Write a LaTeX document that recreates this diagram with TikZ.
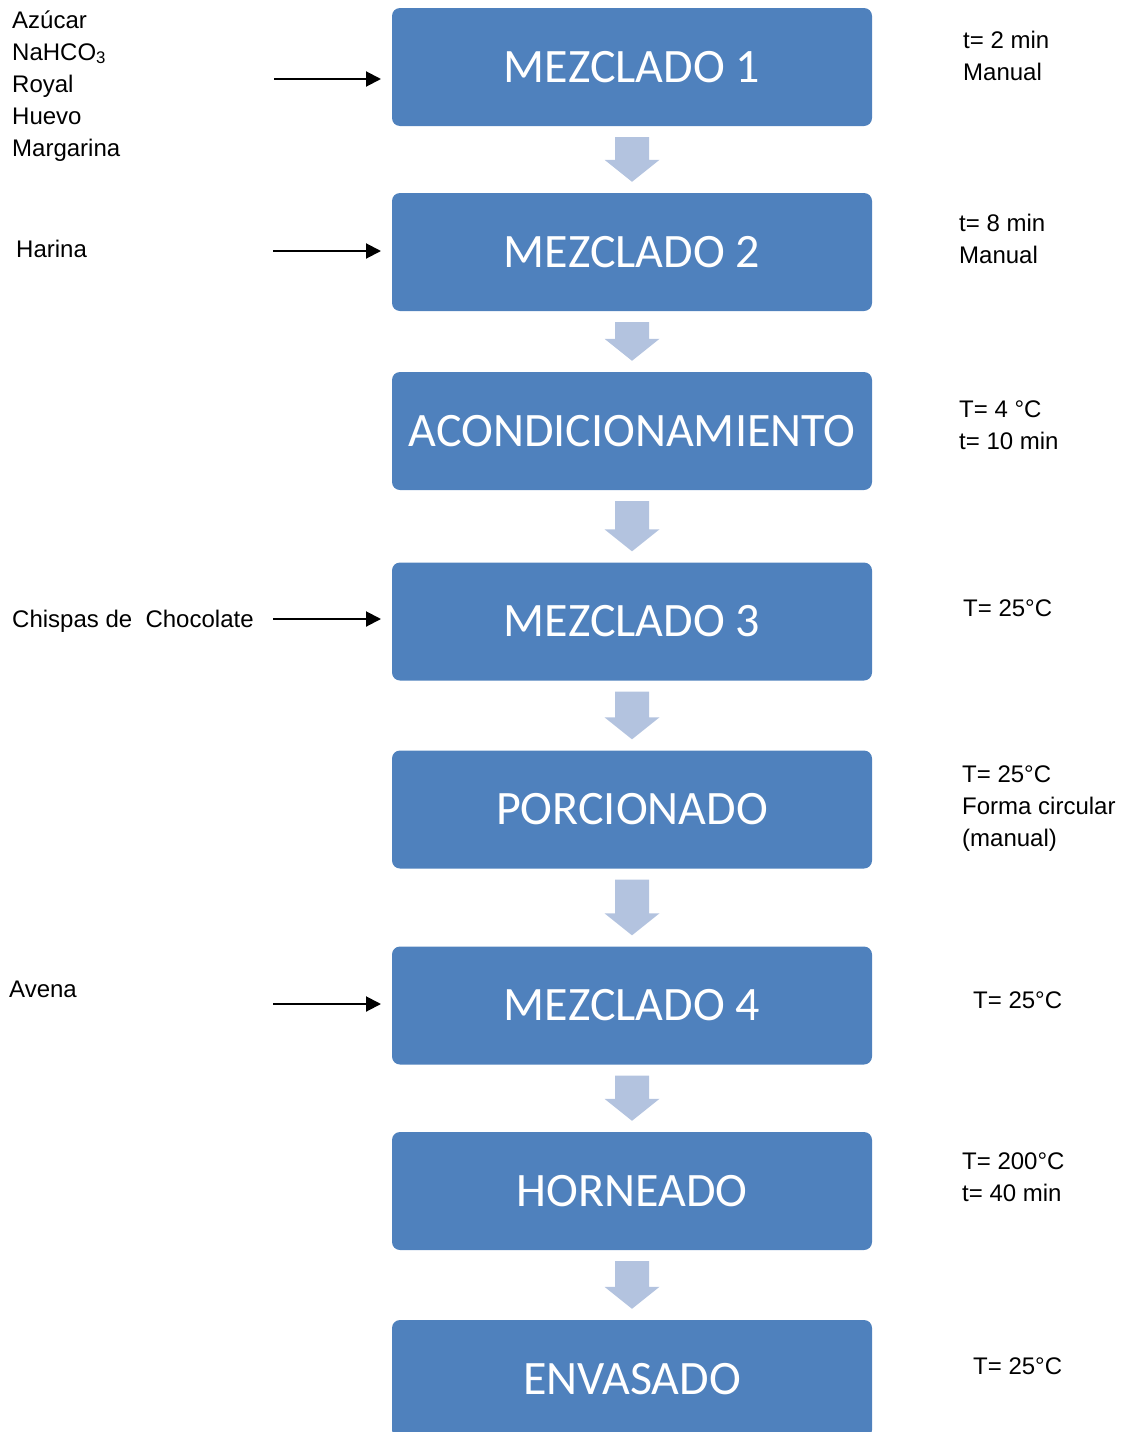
\documentclass[tikz,border=0pt]{standalone}
\usepackage{fontspec}
\setmainfont{Liberation Sans}
\newfontfamily\boxfont{Carlito}
\usetikzlibrary{arrows.meta,calc}
\definecolor{boxblue}{HTML}{4F81BD}
\definecolor{arrowblue}{HTML}{B3C3DF}
\tikzset{
  stepbox/.style={fill=boxblue, rounded corners=8pt, minimum width=480pt, minimum height=118pt,
    inner sep=0pt, text=white, font=\boxfont\fontsize{48}{56}\selectfont},
  lbl/.style={anchor=base west, inner sep=0pt, align=left, font=\fontsize{24}{32}\selectfont},
  feed/.style={-{Triangle[length=15pt,width=15pt]}, line width=2pt},
}
\newcommand{\blockarrow}[2]{%
  \fill[arrowblue] ($(#1.south)+(-17,11)$) -- ($(#1.south)+(17,11)$)
    -- ($(#2.north)+(17,-33)$) -- ($(#2.north)+(27.5,-33)$) -- ($(#2.north)+(0,-11)$)
    -- ($(#2.north)+(-27.5,-33)$) -- ($(#2.north)+(-17,-33)$) -- cycle;}
\begin{document}
\begin{tikzpicture}[x=1pt,y=-1pt]
\useasboundingbox (0,0) rectangle (1121,1432);
\clip (0,0) rectangle (1121,1432);
\node[stepbox] (m1) at (632,67) {MEZCLADO 1};
\node[stepbox] (m2) at (632,252) {MEZCLADO 2};
\node[stepbox] (ac) at (632,431) {ACONDICIONAMIENTO};
\node[stepbox] (m3) at (632,621.5) {MEZCLADO 3};
\node[stepbox] (po) at (632,809.5) {PORCIONADO};
\node[stepbox] (m4) at (632,1005.5) {MEZCLADO 4};
\node[stepbox] (ho) at (632,1191) {HORNEADO};
\node[stepbox] (en) at (632,1379) {ENVASADO};
\blockarrow{m1}{m2}
\blockarrow{m2}{ac}
\blockarrow{ac}{m3}
\blockarrow{m3}{po}
\blockarrow{po}{m4}
\blockarrow{m4}{ho}
\blockarrow{ho}{en}
% inputs
\node[lbl] (in1) at (12,156) {Azúcar\\NaHCO\textsubscript{3}\\Royal\\Huevo\\Margarina};
\node[lbl] (in2) at (16,257) {Harina};
\node[lbl] (in3) at (12,627) {Chispas de\ \ Chocolate};
\node[lbl] (in4) at (9,997) {Avena};
\coordinate (a1s) at (274,79);  \coordinate (a1e) at (381,79);
\coordinate (a2s) at (273,251); \coordinate (a2e) at (381,251);
\coordinate (a3s) at (273,619); \coordinate (a3e) at (381,619);
\coordinate (a4s) at (273,1004); \coordinate (a4e) at (381,1004);
\draw[feed] (a1s) -- (a1e);
\draw[feed] (a2s) -- (a2e);
\draw[feed] (a3s) -- (a3e);
\draw[feed] (a4s) -- (a4e);
% conditions
\node[lbl] (c1) at (963,80) {t= 2 min\\Manual};
\node[lbl] (c2) at (959,263) {t= 8 min\\Manual};
\node[lbl] (c3) at (959,449) {T= 4 °C\\t= 10 min};
\node[lbl] (c4) at (963,616) {T= 25°C};
\node[lbl] (c5) at (962,846) {T= 25°C\\Forma circular\\(manual)};
\node[lbl] (c6) at (973,1008) {T= 25°C};
\node[lbl] (c7) at (962,1201) {T= 200°C\\t= 40 min};
\node[lbl] (c8) at (973,1374) {T= 25°C};
\end{tikzpicture}
\end{document}
